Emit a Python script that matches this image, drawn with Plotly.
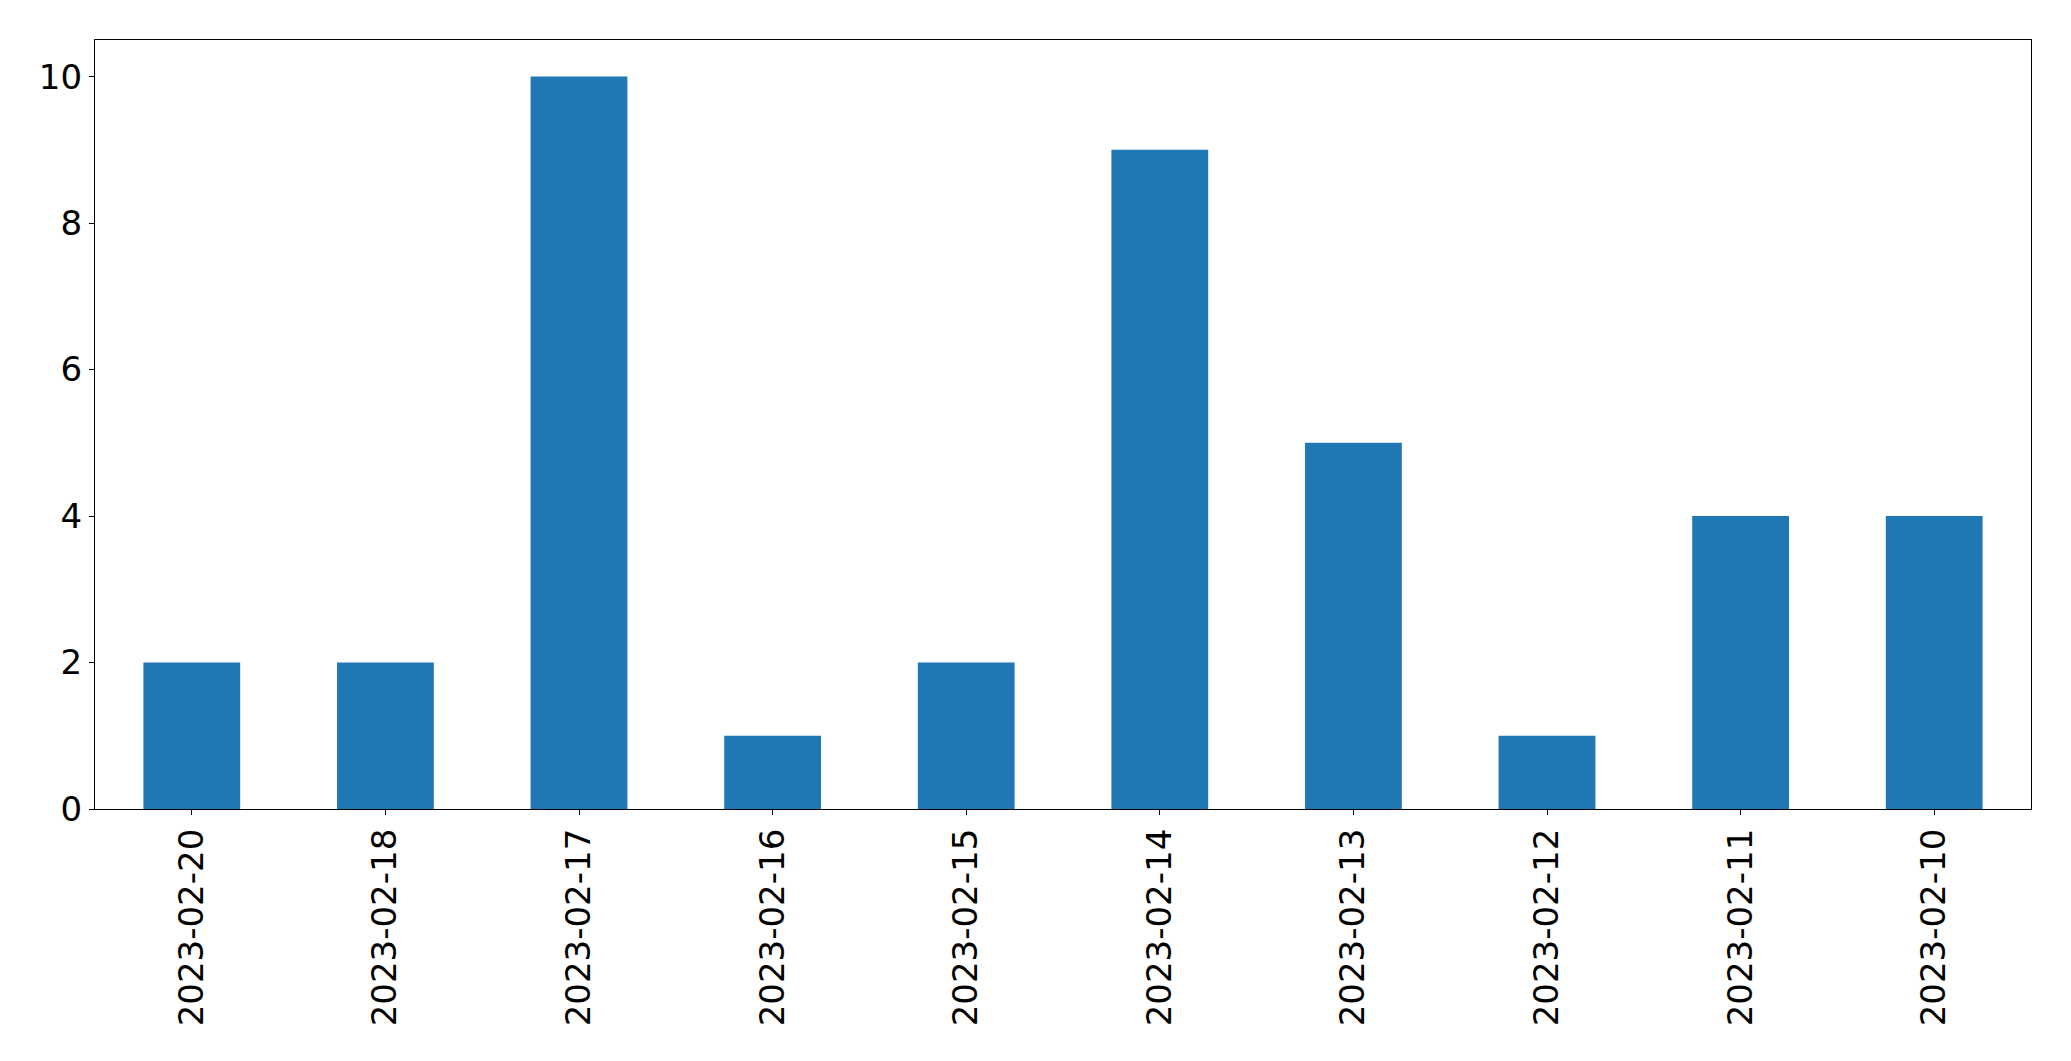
import plotly.graph_objects as go

dates = ["2023-02-20", "2023-02-18", "2023-02-17", "2023-02-16", "2023-02-15",
         "2023-02-14", "2023-02-13", "2023-02-12", "2023-02-11", "2023-02-10"]
counts = [2, 2, 10, 1, 2, 9, 5, 1, 4, 4]
y_ticks = [0, 2, 4, 6, 8, 10]

fig = go.Figure(go.Bar(x=dates, y=counts, marker=dict(color="#1f77b4", line=dict(width=0)), width=0.5))

axis_common = dict(showline=True, linecolor="black", linewidth=1.3, mirror=True,
                   ticks="outside", ticklen=5, tickwidth=1.3, tickcolor="black",
                   showgrid=False, zeroline=False,
                   tickfont=dict(family="DejaVu Sans", size=34, color="black"))

fig.update_layout(
    width=2071, height=1061,
    margin=dict(l=87, r=48, t=32, b=260),
    paper_bgcolor="white", plot_bgcolor="white",
    showlegend=False,
    bargap=0.5,
    xaxis=dict(type="category", tickangle=-90, range=[-0.5, 9.5], **axis_common),
    yaxis=dict(range=[0, 10.5], tickvals=y_ticks, **axis_common),
)

fig.write_html("out.html")
